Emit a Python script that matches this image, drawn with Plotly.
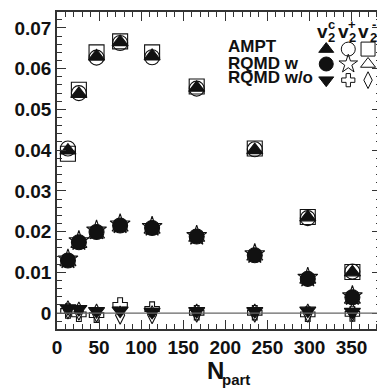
import plotly.graph_objects as go

# ---------------- data ----------------
npart = [13, 26, 47, 75, 113, 166, 235, 298, 351]

ampt_v2c = [0.0399, 0.0538, 0.0630, 0.0665, 0.0631, 0.0553, 0.0400, 0.0235, 0.0100]
ampt_v2p = [0.0404, 0.0540, 0.0627, 0.0663, 0.0628, 0.0551, 0.0402, 0.0233, 0.0102]
ampt_v2m = [0.0391, 0.0548, 0.0640, 0.0667, 0.0640, 0.0556, 0.0404, 0.0236, 0.0101]

rqmdw_v2c = [0.0129, 0.0174, 0.0199, 0.0215, 0.0209, 0.0188, 0.0142, 0.0084, 0.0039]
rqmdw_v2p = [0.0132, 0.0177, 0.0203, 0.0218, 0.0212, 0.0190, 0.0145, 0.0087, 0.0042]
rqmdw_v2m = [0.0125, 0.0170, 0.0193, 0.0210, 0.0205, 0.0185, 0.0139, 0.0082, 0.0033]

rqmdwo_v2c = [0.0012, 0.0010, 0.0005, 0.0006, 0.0003, 0.0005, 0.0005, 0.0006, 0.0003]
rqmdwo_v2p = [0.0005, -0.0003, -0.0005, 0.0020, 0.0010, 0.0001, 0.0001, -0.0003, -0.0002]
rqmdwo_v2m = [0.0008, 0.0005, 0.0000, -0.0005, -0.0004, 0.0000, 0.0000, 0.0000, 0.0002]

x_ticks = [0, 50, 100, 150, 200, 250, 300, 350]
y_ticks = [0, 0.01, 0.02, 0.03, 0.04, 0.05, 0.06, 0.07]
y_tick_text = ["0", "0.01", "0.02", "0.03", "0.04", "0.05", "0.06", "0.07"]

model_names = ["AMPT", "RQMD w", "RQMD w/o"]
col_labels = [("v", "2", "c"), ("v", "2", "+"), ("v", "2", "-")]

# ---------------- style ----------------
BLACK = "#111111"
FONT = "Liberation Sans, Arial, Helvetica, sans-serif"

symbols = [
    ["triangle-up", "circle-open", "square-open"],
    ["circle", "star-open", "triangle-up-open"],
    ["triangle-down", "cross-open", "diamond-tall-open"],
]
sizes = [
    [14, 15, 15],
    [15, 15, 14],
    [14, 12, 13],
]
series = [
    [ampt_v2c, ampt_v2p, ampt_v2m],
    [rqmdw_v2c, rqmdw_v2p, rqmdw_v2m],
    [rqmdwo_v2c, rqmdwo_v2p, rqmdwo_v2m],
]

fig = go.Figure()

# draw open markers first, filled ones on top
for order in [2, 1, 0]:
    for r in range(3):
        sym = symbols[r][order]
        fig.add_trace(go.Scatter(
            x=npart, y=series[r][order], mode="markers",
            marker=dict(symbol=sym, size=sizes[r][order], color=BLACK,
                        line=dict(color=BLACK, width=1.1)),
            showlegend=False, hoverinfo="skip"))

# legend key glyphs on an overlay axis (layout positions, paper-like 0..1)
key_x = [0.831, 0.899, 0.960]
key_y = [0.883, 0.836, 0.785]
for r in range(3):
    for c in range(3):
        sym = symbols[r][c]
        fig.add_trace(go.Scatter(
            x=[key_x[c]], y=[key_y[r]], xaxis="x2", yaxis="y2", mode="markers",
            marker=dict(symbol=sym, size=sizes[r][c] - 1, color=BLACK,
                        line=dict(color=BLACK, width=1.0)),
            showlegend=False, hoverinfo="skip"))

annotations = []
name_y = [0.890, 0.839, 0.792]
for r, name in enumerate(model_names):
    annotations.append(dict(
        x=0.521, y=name_y[r], xref="paper", yref="paper", text=f"<b>{name}</b>",
        showarrow=False, xanchor="left", yanchor="middle",
        font=dict(family=FONT, size=17, color=BLACK)))
head_v_x = [0.819, 0.883, 0.945]
head_s_x = [0.848, 0.912, 0.978]
for c, (v, sub, sup) in enumerate(col_labels):
    annotations.append(dict(
        x=head_v_x[c], y=0.937, xref="paper", yref="paper", text=f"<b>{v}</b>",
        showarrow=False, xanchor="center", yanchor="middle",
        font=dict(family=FONT, size=19, color=BLACK)))
    annotations.append(dict(
        x=head_s_x[c], y=0.918, xref="paper", yref="paper", text=f"<b>{sub}</b>",
        showarrow=False, xanchor="center", yanchor="middle",
        font=dict(family=FONT, size=13, color=BLACK)))
    annotations.append(dict(
        x=head_s_x[c], y=0.962, xref="paper", yref="paper", text=f"<b>{sup}</b>",
        showarrow=False, xanchor="center", yanchor="middle",
        font=dict(family=FONT, size=13, color=BLACK)))

annotations.append(dict(
    x=0.488, y=-0.132, xref="paper", yref="paper",
    text="<b>N</b>", showarrow=False,
    xanchor="center", yanchor="middle",
    font=dict(family=FONT, size=24, color=BLACK)))
annotations.append(dict(
    x=0.552, y=-0.160, xref="paper", yref="paper",
    text="<b>part</b>", showarrow=False,
    xanchor="center", yanchor="middle",
    font=dict(family=FONT, size=15, color=BLACK)))

axis_common = dict(
    showline=True, mirror="ticks", linecolor="#333333", linewidth=1.5,
    ticks="inside", tickcolor="#333333", tickwidth=1.3, ticklen=9,
    showgrid=False, zeroline=False,
    tickfont=dict(family=FONT, size=19, color=BLACK),
)

# page body has an 8px margin: figure is 377x380 so the plot lands where the reference has it
fig.update_layout(
    width=377, height=380,
    margin=dict(l=49, r=2, t=4, b=59),
    paper_bgcolor="white", plot_bgcolor="white",
    showlegend=False,
    annotations=annotations,
    xaxis=dict(range=[0, 385], tickvals=x_ticks,
               ticktext=[f"<b>{t}</b>" for t in x_ticks],
               minor=dict(dtick=10, tick0=0, ticks="inside", ticklen=5,
                          tickcolor="#333333", tickwidth=1),
               **axis_common),
    yaxis=dict(range=[-0.0039, 0.0739], tickvals=y_ticks,
               ticktext=[f"<b>{t}</b>" for t in y_tick_text],
               minor=dict(dtick=0.002, tick0=0, ticks="inside", ticklen=5,
                          tickcolor="#333333", tickwidth=1),
               **axis_common),
    xaxis2=dict(range=[0, 1], domain=[0, 1], overlaying="x", visible=False, anchor="y2"),
    yaxis2=dict(range=[0, 1], domain=[0, 1], overlaying="y", visible=False, anchor="x2"),
)

# zero reference line
fig.add_shape(type="line", xref="paper", x0=0, x1=1, yref="y", y0=0, y1=0,
              line=dict(color="#666666", width=1.2))

fig.write_html("out.html")
